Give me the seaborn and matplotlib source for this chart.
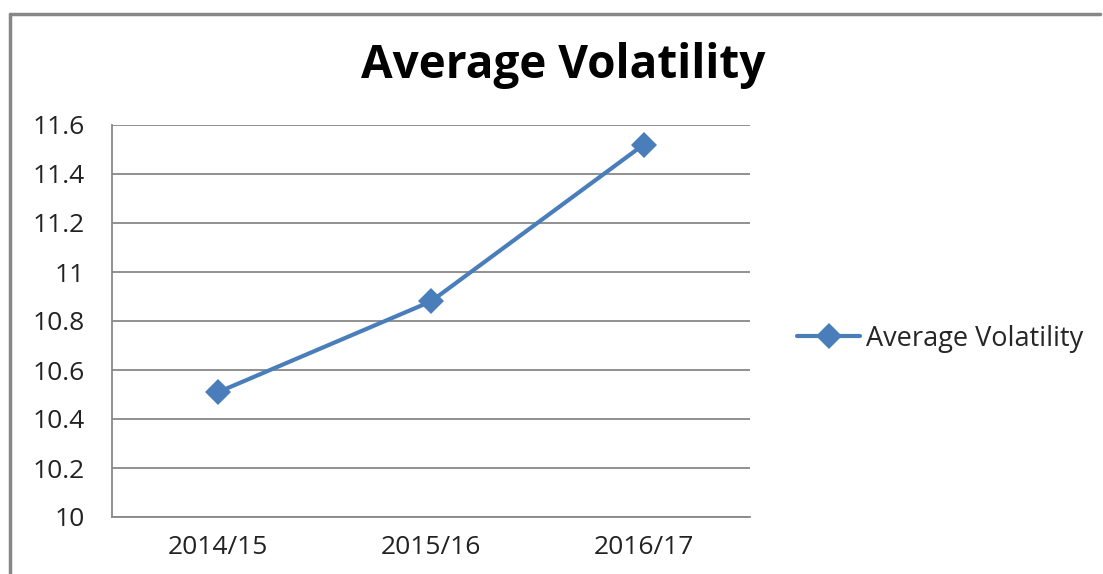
import pandas as pd
import seaborn as sns
import matplotlib.pyplot as plt
from matplotlib.lines import Line2D

years = ["2014/15", "2015/16", "2016/17"]
volatility = [10.51, 10.88, 11.52]
yticks = [10, 10.2, 10.4, 10.6, 10.8, 11, 11.2, 11.4, 11.6]
ytick_labels = ["10", "10.2", "10.4", "10.6", "10.8", "11", "11.2", "11.4", "11.6"]

df = pd.DataFrame({"Year": years, "Average Volatility": volatility})

sns.set_style("white")
plt.rcParams['font.family'] = ['Open Sans', 'DejaVu Sans']

fig = plt.figure(figsize=(11.03, 5.74), dpi=100)
ax = fig.add_axes([112 / 1103, 1 - 517 / 574, (750 - 112) / 1103, (517 - 125) / 574])

sns.lineplot(data=df, x="Year", y="Average Volatility", ax=ax, color="#4A7EBB",
             linewidth=3, marker="D", markersize=13, markeredgewidth=0,
             label="Average Volatility", sort=False)

ax.set_xlim(-0.5, 2.5)
ax.set_ylim(10, 11.6)
ax.set_yticks(yticks)
ax.set_yticklabels(ytick_labels)
# category boundaries get the tick marks, labels sit between them
ax.set_xticks([-0.5, 0.5, 1.5, 2.5], minor=False)
ax.set_xticklabels([])
ax.set_xticks([0, 1, 2], minor=True)
ax.set_xticklabels(years, minor=True)
ax.tick_params(axis="x", which="major", length=7, width=1.2, color="#888888", direction="out")
ax.tick_params(axis="x", which="minor", length=0, pad=13, labelsize=19, labelcolor="#222222")
ax.tick_params(axis="y", length=6.5, width=1.2, color="#888888", direction="out",
               labelsize=19, labelcolor="#222222", pad=13)
ax.grid(axis="y", color="#888888", linewidth=1.3)
ax.set_axisbelow(True)
for side in ["top", "right"]:
    ax.spines[side].set_visible(False)
for side in ["left", "bottom"]:
    ax.spines[side].set_color("#888888")
    ax.spines[side].set_linewidth(1.3)
ax.set_xlabel("")
ax.set_ylabel("")

fig.text(563 / 1103, 1 - 66 / 574, "Average Volatility", ha="center", va="center",
         fontsize=33, fontweight="bold", color="black")

ax.legend(loc="center left", bbox_to_anchor=(1.035, 0.455), frameon=False,
          fontsize=19.5, handlelength=2.35, handletextpad=0.22)

# chart border (left and top edges visible in the reference)
fig.add_artist(Line2D([9.5 / 1103, 9.5 / 1103], [0, 1 - 14 / 574], color="#878787", linewidth=2.5))
fig.add_artist(Line2D([9.5 / 1103, 1100 / 1103], [1 - 14 / 574, 1 - 14 / 574], color="#878787", linewidth=2.5))

fig.savefig("out.png", dpi=100)
